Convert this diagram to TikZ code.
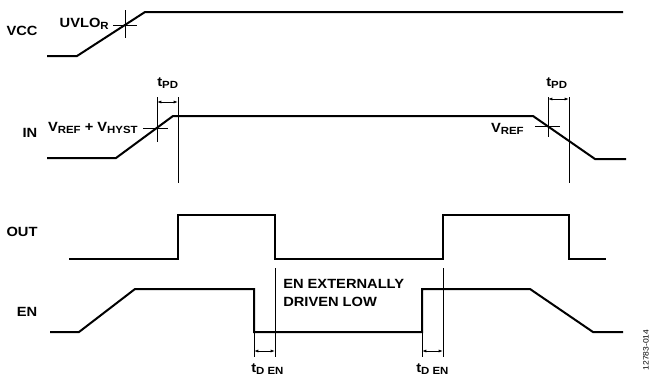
\documentclass[tikz,border=0pt]{standalone}
\usepackage{fontspec}
\setmainfont[FakeStretch=1.1]{Liberation Sans}
\usetikzlibrary{arrows.meta}
\newcommand\lowsub[1]{\raisebox{-0.3ex}{\fontsize{7.8}{8}\selectfont #1}}
\begin{document}
\begin{tikzpicture}[x=0.75pt,y=-0.75pt,
  wave/.style={line width=1.5pt, line join=miter, line cap=rect},
  thinline/.style={line width=0.6pt},
  lbl/.style={font=\fontsize{10}{13.5}\selectfont\bfseries, inner sep=0pt},
  tiny/.style={font=\fontsize{5.8}{6}\selectfont, inner sep=0pt},
  dim/.style={line width=0.6pt, {Latex[length=3.2pt,width=2.2pt]}-{Latex[length=3.2pt,width=2.2pt]}}]
\useasboundingbox (0,0) rectangle (650,375);

% labels
\node[lbl, anchor=base] (vcc) at (22,35) {VCC};
\node[lbl, anchor=base] (in) at (30,137) {IN};
\node[lbl, anchor=base] (out) at (22,236) {OUT};
\node[lbl, anchor=base] (en) at (27,316) {EN};
\node[lbl, anchor=base east] (uvlo) at (109,27) {UVLO\lowsub{R}};
\node[lbl, anchor=base east] (vrefh) at (138,131) {V\lowsub{REF} + V\lowsub{HYST}};
\node[lbl, anchor=base east] (vref) at (524,132) {V\lowsub{REF}};
\node[lbl, anchor=base west] (tpd1) at (157,86) {t\lowsub{PD}};
\node[lbl, anchor=base west] (tpd2) at (546,86) {t\lowsub{PD}};
\node[lbl, anchor=base west, align=left] (ext) at (283,306) {EN EXTERNALLY\\DRIVEN LOW};
\node[lbl, anchor=base west] (tden1) at (251,372) {t\lowsub{D EN}};
\node[lbl, anchor=base west] (tden2) at (416,372) {t\lowsub{D EN}};
\node[tiny, rotate=90] (code) at (646,350) {12783-014};

% waveforms
\draw[wave] (48,56) -- (77,56) -- (145,12) -- (622,12);
\draw[wave] (48,158) -- (116,158) -- (173,116) -- (533,116) -- (595,159) -- (625,159);
\draw[wave] (70,259) -- (178,259) -- (178,215) -- (275,215) -- (275,259) -- (443,259) -- (443,215) -- (569,215) -- (569,259) -- (605,259);
\draw[wave] (51,332) -- (79,332) -- (135,289) -- (254,289) -- (254,332) -- (422,332) -- (422,289) -- (530,289) -- (593,332) -- (622,332);

% crosshairs
\draw[thinline] (125,10) -- (125,38) (113,25) -- (137,25);
\draw[thinline] (157,97) -- (157,142) (143,128) -- (168,128);
\draw[thinline] (548,97) -- (548,137) (535,126) -- (560,126);

% timing lines
\coordinate (a1) at (157,102); \coordinate (a2) at (178,102);
\draw[thinline] (178,97) -- (178,183);
\draw[dim] (a1) -- (a2);
\coordinate (b1) at (548,99); \coordinate (b2) at (569,99);
\draw[thinline] (569,97) -- (569,183);
\draw[dim] (b1) -- (b2);

\draw[thinline] (275,268) -- (275,357);
\draw[thinline] (254,332) -- (254,357);
\coordinate (c1) at (254,351); \coordinate (c2) at (275,351);
\draw[dim] (c1) -- (c2);
\draw[thinline] (443,268) -- (443,357);
\draw[thinline] (422,332) -- (422,357);
\coordinate (d1) at (422,351); \coordinate (d2) at (443,351);
\draw[dim] (d1) -- (d2);
\end{tikzpicture}
\end{document}
